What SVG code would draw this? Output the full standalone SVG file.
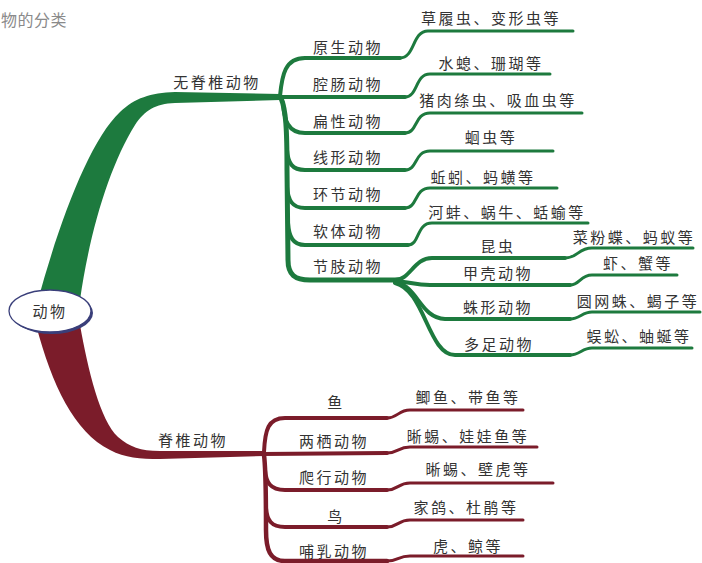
<svg xmlns="http://www.w3.org/2000/svg" width="702" height="563" viewBox="0 0 702 563">
<style>
.t{font-family:"Noto Sans CJK SC","Noto Sans",sans-serif;font-size:15px;fill:#333;text-anchor:middle;letter-spacing:2.5px}
.g{fill:none;stroke:#1d7a3e;stroke-linecap:round;stroke-linejoin:round}
.m{fill:none;stroke:#7b1c2a;stroke-linecap:round;stroke-linejoin:round}
.b{stroke-width:4}
.l{stroke-width:3}
</style>
<rect width="702" height="563" fill="#fff"/>
<text x="1" y="26" style="font-family:'Noto Sans CJK SC',sans-serif;font-size:16px;fill:#8a8a8a;letter-spacing:0.5px">物的分类</text>
<g id="connectors">
<path d="M38 300 C60 220 90 140 120 112 C135 98 150 93 175 92 L280 94 L280 100 L175 103 C155 104 145 110 135 125 C110 165 90 230 80 300 Z" fill="#1d7a3e"/>
<path d="M36 325 C52 385 74 432 110 450 C125 458 140 459 160 459 L264 456 L264 451 L160 451 C140 451 130 447 118 437 C100 420 88 370 80 325 Z" fill="#7b1c2a"/>
<g class="g b">
<path d="M280 96 C282 75 285 58 305 58 L400 58"/>
<path d="M278 97 L405 97"/>
<path d="M281 98 C286 110 287 130 287 170 L288 260 C288 275 295 280 310 280 L400 280" stroke-width="5"/>
<path d="M283 103 C284 120 288 133 305 133 L405 133"/>
<path d="M287 150 C288 163 292 170 305 170 L405 170"/>
<path d="M287 187 C288 200 292 208 305 208 L405 208"/>
<path d="M288 223 C289 237 293 245 305 245 L408 245"/>
<path d="M395 280 C410 280 414 258 432 258 L565 258"/>
<path d="M395 281 C410 282 415 285 430 285 L570 285"/>
<path d="M395 282 C418 286 420 318 445 319 L570 319"/>
<path d="M395 283 C425 290 428 355 455 355 L570 355"/>
</g>
<g class="g l">
<path d="M400 58 C415 58 412 31 428 31 L573 31"/>
<path d="M405 97 C418 97 415 74 430 74 L550 74"/>
<path d="M405 133 C418 133 414 113 430 113 L582 113"/>
<path d="M405 170 C418 170 414 151 430 151 L553 151"/>
<path d="M405 208 C418 208 414 188 430 188 L557 188"/>
<path d="M408 245 C420 245 416 223 432 223 L588 223"/>
<path d="M565 258 C578 258 578 248 592 248 L693 248"/>
<path d="M570 285 C580 285 580 275 592 275 L677 275"/>
<path d="M570 319 C580 319 582 312 592 312 L700 312"/>
<path d="M570 355 C580 355 582 348 592 348 L692 348"/>
</g>
<g class="m b">
<path d="M264 452 C265 430 268 418 285 418 L387 418"/>
<path d="M262 454 L387 453"/>
<path d="M264 455 C266 470 266 500 266 530 C266 550 270 561 285 561 L387 561" stroke-width="4.5"/>
<path d="M265 470 C266 482 270 490 285 490 L387 490"/>
<path d="M266 508 C267 520 271 527 285 527 L387 527"/>
</g>
<g class="m l">
<path d="M387 418 C398 418 398 410 410 410 L523 410"/>
<path d="M387 453 C398 453 398 447 410 447 L537 447"/>
<path d="M387 490 C398 490 398 483 410 483 L553 483"/>
<path d="M387 527 C398 527 398 520 410 520 L523 520"/>
<path d="M387 561 C398 561 398 556 410 556 L523 556"/>
</g>
</g>
<g id="root">
<ellipse cx="52" cy="313" rx="41" ry="21" fill="#3a3f7a"/>
<ellipse cx="50" cy="311" rx="41" ry="21" fill="#fff" stroke="#3a3f7a" stroke-width="1.3"/>
<text class="t" x="50" y="317">动物</text>
</g>
<g id="invertebrate"><text class="t" x="217" y="88">无脊椎动物</text></g>
<g id="protozoa"><text class="t" x="348" y="53">原生动物</text></g>
<g id="coelenterata"><text class="t" x="348" y="90">腔肠动物</text></g>
<g id="flatworm"><text class="t" x="348" y="127">扁性动物</text></g>
<g id="nematoda"><text class="t" x="348" y="163">线形动物</text></g>
<g id="annelida"><text class="t" x="348" y="200">环节动物</text></g>
<g id="mollusca"><text class="t" x="348" y="237">软体动物</text></g>
<g id="arthropoda"><text class="t" x="348" y="272">节肢动物</text></g>
<g id="leaf-protozoa"><text class="t" x="491" y="24">草履虫、变形虫等</text></g>
<g id="leaf-coelenterata"><text class="t" x="491" y="69">水螅、珊瑚等</text></g>
<g id="leaf-flatworm"><text class="t" x="498" y="106">猪肉绦虫、吸血虫等</text></g>
<g id="leaf-nematoda"><text class="t" x="491" y="143">蛔虫等</text></g>
<g id="leaf-annelida"><text class="t" x="483" y="183">蚯蚓、蚂蟥等</text></g>
<g id="leaf-mollusca"><text class="t" x="507" y="218">河蚌、蜗牛、蛞蝓等</text></g>
<g id="insect"><text class="t" x="498" y="252">昆虫</text></g>
<g id="crustacea"><text class="t" x="498" y="279">甲壳动物</text></g>
<g id="arachnida"><text class="t" x="498" y="313">蛛形动物</text></g>
<g id="myriapoda"><text class="t" x="499" y="350">多足动物</text></g>
<g id="leaf-insect"><text class="t" x="634" y="243">菜粉蝶、蚂蚁等</text></g>
<g id="leaf-crustacea"><text class="t" x="638" y="269">虾、蟹等</text></g>
<g id="leaf-arachnida"><text class="t" x="638" y="307">圆网蛛、蝎子等</text></g>
<g id="leaf-myriapoda"><text class="t" x="639" y="342">蜈蚣、蚰蜒等</text></g>
<g id="vertebrate"><text class="t" x="193" y="446">脊椎动物</text></g>
<g id="fish"><text class="t" x="336" y="408">鱼</text></g>
<g id="amphibia"><text class="t" x="334" y="447">两栖动物</text></g>
<g id="reptilia"><text class="t" x="334" y="483">爬行动物</text></g>
<g id="aves"><text class="t" x="336" y="522">鸟</text></g>
<g id="mammalia"><text class="t" x="334" y="557">哺乳动物</text></g>
<g id="leaf-fish"><text class="t" x="468" y="403">鲫鱼、带鱼等</text></g>
<g id="leaf-amphibia"><text class="t" x="468" y="442">晰蜴、娃娃鱼等</text></g>
<g id="leaf-reptilia"><text class="t" x="478" y="475">晰蜴、壁虎等</text></g>
<g id="leaf-aves"><text class="t" x="466" y="513">家鸽、杜鹃等</text></g>
<g id="leaf-mammalia"><text class="t" x="468" y="552">虎、鲸等</text></g>
</svg>
